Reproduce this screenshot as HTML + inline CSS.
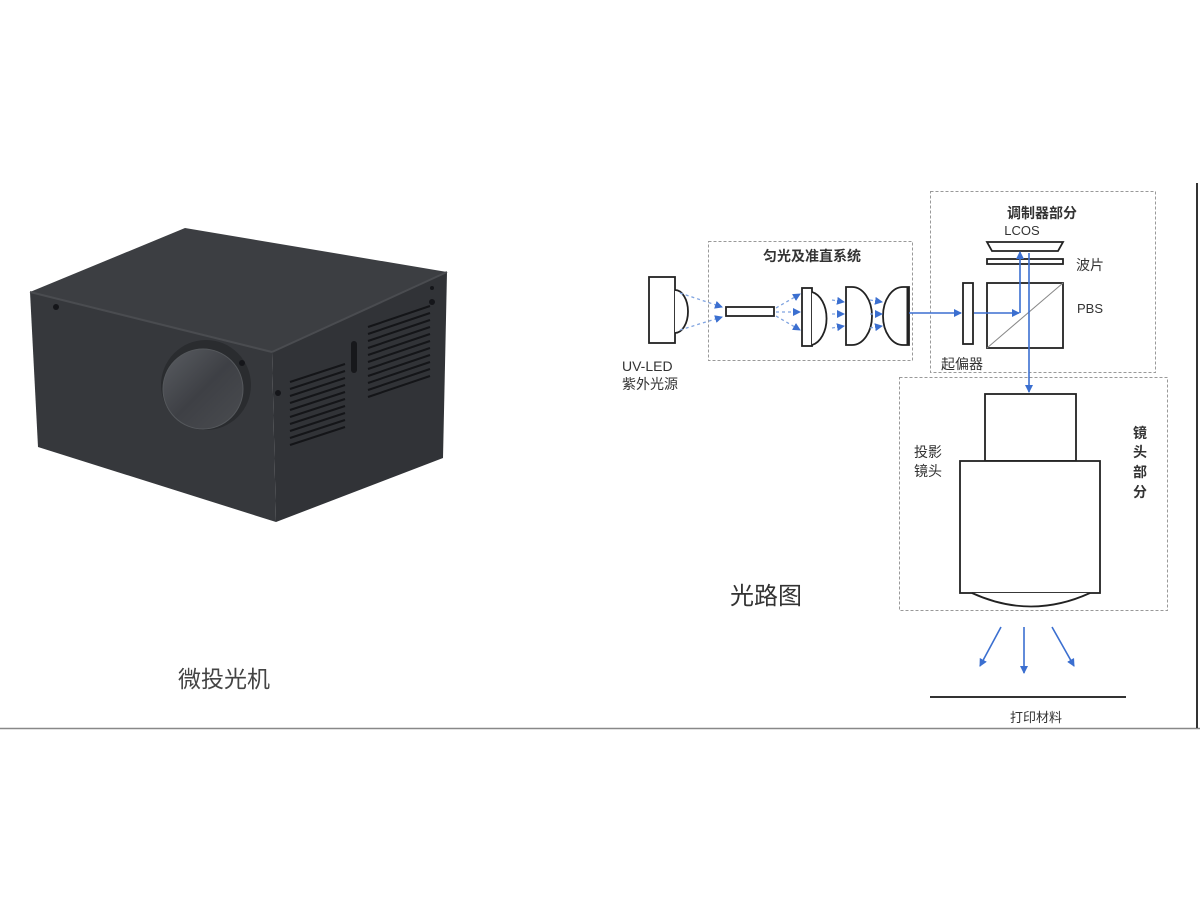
<!DOCTYPE html>
<html><head><meta charset="utf-8"><style>
html,body{margin:0;padding:0;background:#fff;}
svg{display:block;}
text{font-family:"Liberation Sans","Noto Sans CJK SC",sans-serif;}
</style></head><body>
<svg width="1200" height="912" viewBox="0 0 1200 912" xmlns="http://www.w3.org/2000/svg">
<defs>
<marker id="ah" markerWidth="8" markerHeight="8" refX="7" refY="4" orient="auto" markerUnits="userSpaceOnUse"><path d="M0,0 L8,4 L0,8 z" fill="#3b6fd0"/></marker>
<linearGradient id="lens" x1="0" y1="0" x2="1" y2="1"><stop offset="0" stop-color="#5a5d62"/><stop offset="0.5" stop-color="#3e4045"/><stop offset="1" stop-color="#4a4c50"/></linearGradient>
</defs>
<rect width="1200" height="912" fill="#fff"/>
<!-- projector box -->
<polygon points="30,292 185,228 447,272 272,352" fill="#3c3e42"/>
<polygon points="30,292 272,352 276,522 38,447" fill="#36383c"/>
<polygon points="272,352 447,272 443,458 276,522" fill="#313337"/>
<line x1="30" y1="292" x2="272" y2="352" stroke="#4a4c50" stroke-width="2"/>
<line x1="272" y1="352" x2="447" y2="272" stroke="#4a4c50" stroke-width="2"/>
<circle cx="206" cy="385" r="45" fill="#2a2c2f"/>
<circle cx="203" cy="389" r="40" fill="url(#lens)" stroke="#55585c" stroke-width="1"/>
<g fill="#15161a"><circle cx="56" cy="307" r="3"/><circle cx="242" cy="363" r="3"/><circle cx="278" cy="393" r="3"/><circle cx="432" cy="302" r="3"/><circle cx="432" cy="288" r="2"/></g>
<g stroke="#141518" stroke-width="2">
<line x1="290" y1="382" x2="345" y2="364"/><line x1="290" y1="389" x2="345" y2="371"/><line x1="290" y1="396" x2="345" y2="378"/><line x1="290" y1="403" x2="345" y2="385"/><line x1="290" y1="410" x2="345" y2="392"/><line x1="290" y1="417" x2="345" y2="399"/><line x1="290" y1="424" x2="345" y2="406"/><line x1="290" y1="431" x2="345" y2="413"/><line x1="290" y1="438" x2="345" y2="420"/><line x1="290" y1="445" x2="345" y2="427"/>
<line x1="368" y1="327" x2="430" y2="306"/><line x1="368" y1="334" x2="430" y2="313"/><line x1="368" y1="341" x2="430" y2="320"/><line x1="368" y1="348" x2="430" y2="327"/><line x1="368" y1="355" x2="430" y2="334"/><line x1="368" y1="362" x2="430" y2="341"/><line x1="368" y1="369" x2="430" y2="348"/><line x1="368" y1="376" x2="430" y2="355"/><line x1="368" y1="383" x2="430" y2="362"/><line x1="368" y1="390" x2="430" y2="369"/><line x1="368" y1="397" x2="430" y2="376"/>
</g>
<rect x="351" y="341" width="6" height="32" rx="3" fill="#17181b"/>
<text x="224" y="687" font-size="23" fill="#444" text-anchor="middle">微投光机</text>
<!-- frame lines -->
<line x1="0" y1="728.5" x2="1200" y2="728.5" stroke="#888" stroke-width="1.5"/>
<line x1="1197" y1="183" x2="1197" y2="728" stroke="#333" stroke-width="2"/>
<!-- dashed boxes -->
<g fill="none" stroke="#999" stroke-width="1" stroke-dasharray="3,2">
<rect x="708.5" y="241.5" width="204" height="119"/>
<rect x="930.5" y="191.5" width="225" height="181"/>
<rect x="899.5" y="377.5" width="268" height="233"/>
</g>
<g font-size="14" fill="#333">
<text x="812" y="261" text-anchor="middle" font-weight="bold">匀光及准直系统</text>
<text x="1042" y="218" text-anchor="middle" font-weight="bold">调制器部分</text>
<text x="1022" y="235" text-anchor="middle" font-size="13">LCOS</text>
<text x="1076" y="270">波片</text>
<text x="1077" y="313" font-size="13">PBS</text>
<text x="941" y="369">起偏器</text>
<text x="622" y="371">UV-LED</text>
<text x="622" y="389">紫外光源</text>
<text x="914" y="457">投影</text>
<text x="914" y="476">镜头</text>
<g font-weight="bold"><text x="1133" y="438">镜</text><text x="1133" y="457">头</text><text x="1133" y="477">部</text><text x="1133" y="497">分</text></g>
<text x="1036" y="722" text-anchor="middle" font-size="13">打印材料</text>
</g>
<text x="766" y="604" font-size="24" fill="#333" text-anchor="middle">光路图</text>
<!-- optics -->
<g fill="#fff" stroke="#222" stroke-width="1.8">
<rect x="649" y="277" width="26" height="66"/>
<path d="M675,290 A13,21.5 0 0 1 675,333"/>
<rect x="726" y="307" width="48" height="9"/>
<rect x="802" y="288" width="10" height="58"/>
<path d="M812,292 A18,27 0 0 1 812,345"/>
<path d="M846,287 L852,287 A20,29 0 0 1 852,345 L846,345 Z"/>
<path d="M909,287 L903,287 A20,29 0 0 0 903,345 L909,345 Z"/>
<rect x="963" y="283" width="10" height="61"/>
<rect x="987" y="283" width="76" height="65"/>
<rect x="987" y="259" width="76" height="5"/>
<polygon points="987,242 1063,242 1058,251 992,251"/>
</g>
<line x1="908" y1="287" x2="908" y2="345" stroke="#222" stroke-width="3"/>
<line x1="987" y1="348" x2="1063" y2="283" stroke="#888" stroke-width="1"/>
<!-- dashed rays -->
<g stroke="#7fa3e0" stroke-width="1.3" stroke-dasharray="3,3" fill="none" marker-end="url(#ah)">
<line x1="680" y1="293" x2="722" y2="307"/>
<line x1="680" y1="330" x2="722" y2="317"/>
<line x1="776" y1="308" x2="800" y2="294"/>
<line x1="776" y1="312" x2="800" y2="312"/>
<line x1="776" y1="316" x2="800" y2="330"/>
<line x1="832" y1="300" x2="844" y2="302"/>
<line x1="832" y1="314" x2="844" y2="314"/>
<line x1="832" y1="328" x2="844" y2="326"/>
<line x1="870" y1="300" x2="882" y2="302"/>
<line x1="870" y1="314" x2="882" y2="314"/>
<line x1="870" y1="328" x2="882" y2="326"/>
</g>
<!-- solid rays -->
<g stroke="#3b6fd0" stroke-width="1.6" fill="none" marker-end="url(#ah)">
<line x1="909" y1="313" x2="961" y2="313"/>
<line x1="974" y1="313" x2="1019" y2="313"/>
<polyline points="1020,313 1020,252"/>
<line x1="1029" y1="253" x2="1029" y2="392"/>
<line x1="1001" y1="627" x2="980" y2="666"/>
<line x1="1024" y1="627" x2="1024" y2="673"/>
<line x1="1052" y1="627" x2="1074" y2="666"/>
</g>
<!-- projection lens -->
<g fill="#fff" stroke="#222" stroke-width="1.8">
<rect x="985" y="394" width="91" height="67"/>
<rect x="960" y="461" width="140" height="132"/>
<path d="M972,593 Q1031,620 1090,593"/>
</g>
<line x1="930" y1="697" x2="1126" y2="697" stroke="#333" stroke-width="2"/>
</svg>
</body></html>
